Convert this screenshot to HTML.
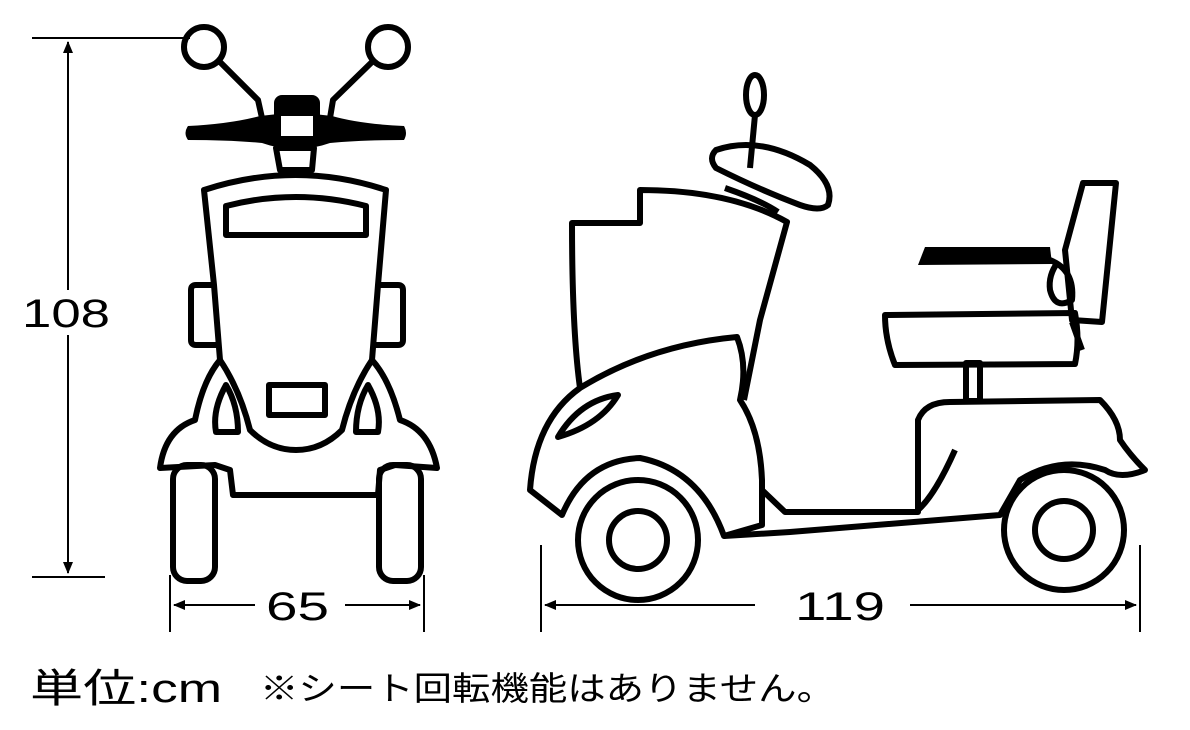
<!DOCTYPE html>
<html><head><meta charset="utf-8"><style>
html,body{margin:0;padding:0;background:#fff;width:1190px;height:730px;overflow:hidden}
svg{display:block}
</style></head><body>
<svg width="1190" height="730" viewBox="0 0 1190 730" xmlns="http://www.w3.org/2000/svg">
<defs>
<marker id="a" markerWidth="12" markerHeight="10" refX="11" refY="5" orient="auto" markerUnits="userSpaceOnUse"><path d="M0,0 L12,5 L0,10 z" fill="#000"/></marker>
</defs>
<g fill="none" stroke="#000" stroke-width="2">
<line x1="32" y1="38" x2="190" y2="38"/>
<line x1="32" y1="577" x2="105" y2="577"/>
<line x1="68" y1="290" x2="68" y2="42" marker-end="url(#a)"/>
<line x1="68" y1="335" x2="68" y2="573" marker-end="url(#a)"/>
<line x1="170" y1="575" x2="170" y2="632"/>
<line x1="424" y1="575" x2="424" y2="632"/>
<line x1="255" y1="605" x2="174" y2="605" marker-end="url(#a)"/>
<line x1="345" y1="605" x2="420" y2="605" marker-end="url(#a)"/>
<line x1="541" y1="545" x2="541" y2="632"/>
<line x1="1140" y1="545" x2="1140" y2="632"/>
<line x1="755" y1="605" x2="545" y2="605" marker-end="url(#a)"/>
<line x1="910" y1="605" x2="1136" y2="605" marker-end="url(#a)"/>
</g>
<g font-family="Liberation Sans, sans-serif" font-size="40" fill="#000">
<text x="22" y="327" textLength="88" lengthAdjust="spacingAndGlyphs">108</text>
<text x="266" y="620" textLength="63" lengthAdjust="spacingAndGlyphs">65</text>
<text x="795" y="620" textLength="90" lengthAdjust="spacingAndGlyphs">119</text>
</g>
<g font-family="Liberation Sans, 'Noto Sans CJK JP', sans-serif" fill="#000">
<text x="30" y="702" font-size="40" textLength="192" lengthAdjust="spacingAndGlyphs">単位:cm</text>
<text x="260" y="700" font-size="33" textLength="575" lengthAdjust="spacingAndGlyphs">※シート回転機能はありません。</text>
</g>

<!-- FRONT VIEW -->
<g fill="none" stroke="#000" stroke-width="6" stroke-linejoin="round">
<circle cx="204" cy="47" r="20"/>
<circle cx="388" cy="47" r="20"/>
<path d="M220,62 L258,100 L262,118"/>
<path d="M372,62 L333,100 L330,118"/>
<path d="M276,148 L314,148 L312,170 L280,170 Z"/>
<path d="M204,190 Q296,160 386,190 L378,285 L372,360 Q390,380 400,420 Q430,430 437,468 L395,465 L380,470 L378,495 L233,495 L230,470 L215,465 L160,468 Q165,430 195,420 Q203,380 220,360 L214,285 Z"/>
<path d="M226,235 L226,206 Q296,188 366,206 L366,235 Z"/>
<path d="M214,285 L196,285 Q191,285 191,290 L191,340 Q191,345 196,345 L218,345"/>
<path d="M378,285 L398,285 Q403,285 403,290 L403,340 Q403,345 398,345 L375,345"/>
<path d="M220,360 Q240,390 250,430 Q270,450 296,450 Q322,450 342,430 Q352,390 372,360"/>
<rect x="269" y="385" width="56" height="30"/>
<path d="M226,385 Q212,410 216,432 L238,432 Q238,405 226,385 Z"/>
<path d="M368,385 Q382,410 378,432 L356,432 Q356,405 368,385 Z"/>
<rect x="173" y="465" width="42" height="116" rx="14"/>
<rect x="379" y="465" width="42" height="116" rx="14"/>
</g>
<path d="M188,126 Q230,124 260,116 L296,112 L332,116 Q360,124 404,126 Q408,133 404,140 Q360,140 330,143 Q296,155 262,143 Q230,140 188,140 Q183,133 188,126 Z" fill="#000"/>
<rect x="274" y="95" width="46" height="48" rx="8" fill="#000"/>
<rect x="281" y="116" width="32" height="20" fill="#fff"/>

<!-- SIDE VIEW -->
<g fill="none" stroke="#000" stroke-width="6" stroke-linejoin="round">
<ellipse cx="755" cy="95" rx="9" ry="20"/>
<path d="M755,115 L750,168"/>
<path d="M716,150 Q760,135 810,165 Q835,185 828,205 Q820,212 800,205 Q760,190 716,168 Q708,158 716,150 Z"/>
<path d="M725,188 Q760,200 778,212"/>
<path d="M580,388 Q572,330 572,223 L640,223 L640,190 Q730,190 787,222 L760,320 L744,400"/>
<path d="M580,388 Q650,345 737,337 Q748,365 740,400 Q760,430 762,480 L762,525 L724,536 Q700,470 640,458 Q585,460 562,515 L530,490 Q535,420 580,388 Z"/>
<path d="M558,437 Q580,400 618,395 Q600,425 558,437 Z"/>
<path d="M762,490 L785,512 L918,512 L918,420 Q925,402 950,402 L1100,400 Q1120,420 1120,440 Q1130,455 1145,470 Q1120,480 1105,470 Q1060,455 1020,480 L1000,515 L790,532 L724,536"/>
<path d="M918,510 Q935,495 955,450"/>
<circle cx="638" cy="540" r="60"/>
<circle cx="638" cy="540" r="29"/>
<circle cx="1064" cy="530" r="60"/>
<circle cx="1064" cy="530" r="29"/>
<rect x="966" y="363" width="14" height="38"/>
<path d="M885,315 L1075,313 Q1080,340 1075,364 L895,365 Q885,340 885,315 Z"/>
<path d="M1083,183 L1116,183 L1102,322 L1072,320 L1065,250 Z"/>
<path d="M1050,260 Q1075,270 1072,300 Q1055,310 1050,290 Q1048,275 1058,262"/>
<path d="M1072,322 L1082,350"/>
</g>
<path d="M925,247 L1050,247 L1052,264 L918,265 Z" fill="#000"/>
</svg>
</body></html>
